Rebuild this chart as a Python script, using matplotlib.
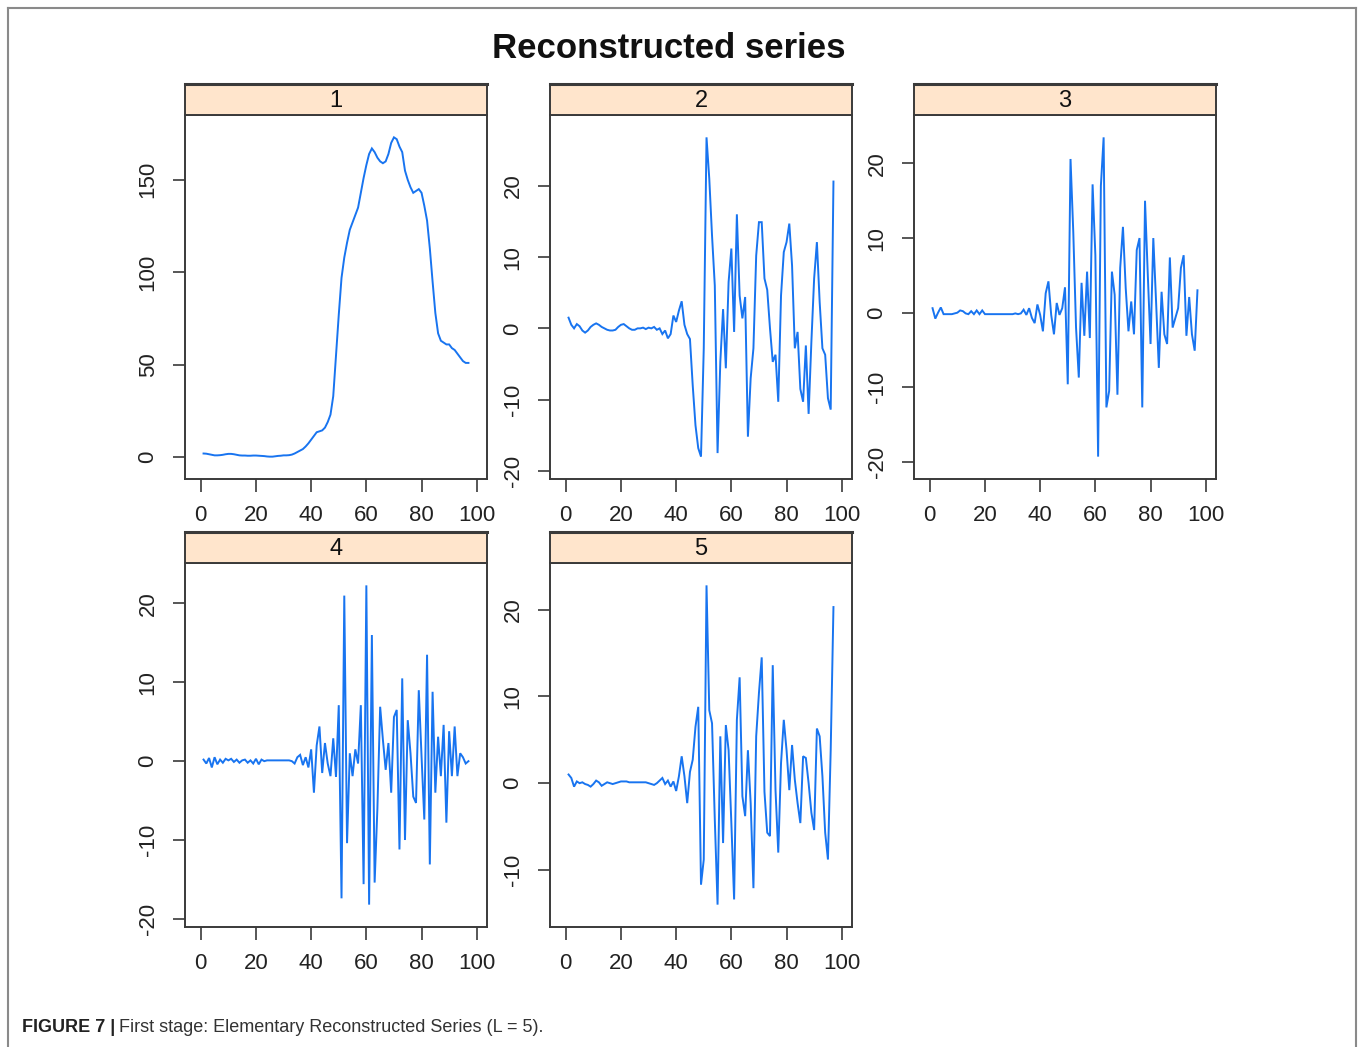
import matplotlib
matplotlib.use("Agg")
import matplotlib.pyplot as plt
from matplotlib.ticker import MultipleLocator
from matplotlib.lines import Line2D

plt.rcParams["font.family"] = ["Liberation Sans", "DejaVu Sans"]
plt.rcParams["axes.unicode_minus"] = False

# ---- data: elementary reconstructed series (L = 5), one value per time step ----
t = list(range(1, 98))

series_1 = [
    2.0, 1.9, 1.6, 1.3, 1.0, 1.0, 1.1, 1.3, 1.6, 1.8,
    1.8, 1.6, 1.3, 1.0, 0.9, 0.9, 0.8, 0.8, 0.9, 0.9,
    0.8, 0.7, 0.6, 0.4, 0.3, 0.3, 0.5, 0.7, 0.8, 1.0,
    1.0, 1.1, 1.4, 2.0, 2.8, 3.6, 4.4, 5.8, 7.5, 9.5,
    11.5, 13.5, 14.0, 14.5, 16.0, 19.0, 23.0, 33.0, 55.0, 77.0,
    97, 108, 116, 123, 127, 131, 135, 143, 151, 158,
    164, 167, 165, 162, 160, 159, 160, 164, 170, 173,
    172, 168, 165, 155, 150, 146, 143, 144, 145, 143,
    136, 128, 113, 95, 78, 67, 63, 62, 61, 61,
    59, 58, 56, 54, 52, 51, 51,
]

series_2 = [
    1.5, 0.5, 0.0, 0.6, 0.3, -0.3, -0.6, -0.3, 0.2, 0.5,
    0.7, 0.5, 0.2, 0.0, -0.2, -0.3, -0.3, -0.2, 0.2, 0.5,
    0.6, 0.3, 0.0, -0.2, -0.2, 0.0, 0.0, 0.1, -0.1, 0.1,
    0.0, 0.2, -0.2, 0.0, -0.8, -0.3, -1.4, -0.8, 1.8, 0.9,
    2.5, 3.8, 0.5, -0.8, -1.5, -8.0, -13.6, -16.8, -18.0, -2.8,
    26.8, 21.0, 13.0, 6.0, -17.5, -4.7, 2.7, -5.6, 6.5, 11.2,
    -0.5, 16.0, 4.6, 1.4, 4.4, -15.2, -7.0, -2.8, 10.2, 14.9,
    14.9, 7.0, 5.4, 0.0, -4.7, -3.7, -10.3, 4.6, 10.7, 12.1,
    14.7, 8.8, -2.8, -0.5, -8.5, -10.3, -2.4, -12.0, -1.9, 7.0,
    12.1, 3.7, -2.8, -3.7, -9.8, -11.4, 20.6,
]

series_3 = [
    0.6, -0.8, 0.0, 0.7, -0.2, -0.2, -0.2, -0.2, -0.1, 0.0,
    0.3, 0.2, -0.1, -0.2, 0.2, -0.2, 0.3, -0.2, 0.3, -0.2,
    -0.2, -0.2, -0.2, -0.2, -0.2, -0.2, -0.2, -0.2, -0.2, -0.2,
    -0.1, -0.2, -0.1, 0.4, -0.3, 0.6, -0.7, -1.4, 1.1, -0.3,
    -2.5, 2.6, 4.2, -0.3, -2.9, 1.3, -0.3, 0.6, 3.4, -9.6,
    20.6, 10.8, -2.0, -8.7, 4.0, -3.1, 5.5, -3.4, 17.2, 7.7,
    -19.3, 17.0, 23.5, -12.7, -10.5, 5.5, 2.4, -11.0, 6.0, 11.5,
    3.3, -2.5, 1.5, -2.9, 8.4, 10.0, -12.7, 15.0, 5.1, -4.2,
    10.0, 1.5, -7.4, 2.8, -2.9, -4.2, 7.4, -2.0, -0.7, 0.6,
    6.0, 7.7, -3.1, 2.1, -2.9, -5.1, 3.0,
]

series_4 = [
    0.2, -0.3, 0.4, -0.8, 0.5, -0.4, 0.2, -0.2, 0.3, 0.1,
    0.3, -0.1, 0.2, -0.2, 0.1, 0.2, -0.2, 0.1, -0.3, 0.3,
    -0.4, 0.2, 0.0, 0.1, 0.1, 0.1, 0.1, 0.1, 0.1, 0.1,
    0.1, 0.1, 0.0, -0.3, 0.5, 0.8, -0.5, 0.5, -0.8, 1.5,
    -4.0, 2.0, 4.4, -1.5, 2.3, -0.3, -1.9, 2.9, -2.0, 7.1,
    -17.4, 21.0, -10.4, 1.0, -1.9, 1.5, -0.3, 7.1, -15.6, 22.3,
    -18.2, 16.0, -15.4, -6.0, 6.9, 2.7, -1.1, 2.3, -4.0, 5.6,
    6.5, -11.2, 10.5, -10.0, 5.2, 1.0, -4.5, -5.3, 9.0, 0.6,
    -7.4, 13.5, -13.1, 8.8, -4.0, 3.1, -1.9, 4.6, -7.8, 3.8,
    -1.9, 4.4, -1.9, 1.0, 0.5, -0.3, 0.0,
]

series_5 = [
    1.0, 0.6, -0.4, 0.2, 0.0, 0.1, -0.1, -0.2, -0.4, -0.1,
    0.3, 0.1, -0.3, -0.1, 0.1, 0.0, -0.1, 0.0, 0.1, 0.2,
    0.2, 0.2, 0.1, 0.1, 0.1, 0.1, 0.1, 0.1, 0.1, 0.0,
    -0.1, -0.2, 0.0, 0.3, 0.6, -0.1, 0.3, -0.4, 0.2, -0.9,
    0.8, 3.1, 0.8, -2.3, 1.3, 2.7, 6.5, 8.8, -11.7, -8.8,
    22.8, 8.4, 6.9, -4.2, -14.0, 5.4, -6.9, 6.7, 3.8, -4.6,
    -13.4, 7.3, 12.2, -1.5, -3.8, 3.8, -2.3, -12.1, 5.4, 10.4,
    14.5, -1.0, -5.7, -6.1, 13.6, -0.8, -8.0, 2.3, 7.3, 3.8,
    -0.8, 4.4, 0.4, -2.3, -4.6, 3.1, 2.9, 0.0, -3.4, -5.4,
    6.3, 5.4, 0.8, -5.7, -8.8, 3.8, 20.3,
]

panel_labels = ["1", "2", "3", "4", "5"]
all_series = [series_1, series_2, series_3, series_4, series_5]
y_steps = [50, 10, 10, 10, 10]

# ---- figure layout (pixel geometry of a 1358 x 1047 canvas) ----
W, H = 1358, 1047
fig = plt.figure(figsize=(W / 100, H / 100), dpi=100)
fig.patch.set_facecolor("white")


def fx(px):
    return px / W


def fy(py):
    return 1 - py / H


origins = [(185, 115), (550, 115), (914, 115), (185, 563), (550, 563)]
pw, ph, sh = 302, 364, 31
line_col = "#1874f0"
frame_col = "#3a3a3a"
strip_col = "#ffe5cc"
tick_col = "#222222"


def padded(lo, hi, frac=0.07):
    d = (hi - lo) * frac
    return lo - d, hi + d


for (x0, y0), lab, ys, step in zip(origins, panel_labels, all_series, y_steps):
    ax = fig.add_axes([fx(x0), fy(y0 + ph), pw / W, ph / H])
    ax.plot(t, ys, color=line_col, lw=1.4, solid_joinstyle="miter")
    ax.set_xlim(*padded(min(t), max(t)))
    ax.set_ylim(*padded(min(ys), max(ys)))
    ax.xaxis.set_major_locator(MultipleLocator(20))
    ax.yaxis.set_major_locator(MultipleLocator(step))
    for s in ax.spines.values():
        s.set_color(frame_col)
        s.set_linewidth(1.4)
    ax.tick_params(axis="both", direction="out", length=9, width=1.2,
                   color=frame_col, labelsize=16, labelcolor=tick_col,
                   top=False, right=False, pad=10)
    ax.tick_params(axis="y", labelrotation=90)
    for tl in ax.get_yticklabels():
        tl.set_va("center")
    ax.set_xlim(*padded(min(t), max(t)))

    sax = fig.add_axes([fx(x0), fy(y0), pw / W, sh / H])
    sax.set_facecolor(strip_col)
    sax.set_xticks([])
    sax.set_yticks([])
    for s in sax.spines.values():
        s.set_color(frame_col)
        s.set_linewidth(1.4)
    sax.spines["top"].set_linewidth(2.2)
    sax.text(0.5, 0.45, lab, ha="center", va="center", fontsize=17,
             color="#111111", transform=sax.transAxes)

fig.text(fx(669), fy(48), "Reconstructed series", ha="center", va="center",
         fontsize=25, fontweight="bold", color="#111111")

# page frame around the figure
frame_kw = dict(color="#8a8a8a", lw=1.5, transform=fig.transFigure)
fig.add_artist(Line2D([fx(8), fx(8)], [fy(8), 0], **frame_kw))
fig.add_artist(Line2D([fx(8), fx(1356)], [fy(8), fy(8)], **frame_kw))
fig.add_artist(Line2D([fx(1356), fx(1356)], [fy(8), 0], **frame_kw))

# caption
cap_a = fig.text(fx(22), fy(1028), "FIGURE 7 |", ha="left", va="center",
                 fontsize=13, fontweight="bold", color="#222222")
fig.canvas.draw()
bb = cap_a.get_window_extent(renderer=fig.canvas.get_renderer())
fig.text(bb.x1 / W + 4 / W, fy(1028),
         "First stage: Elementary Reconstructed Series (L = 5).",
         ha="left", va="center", fontsize=13, color="#333333")

fig.savefig("out.png", dpi=100)
